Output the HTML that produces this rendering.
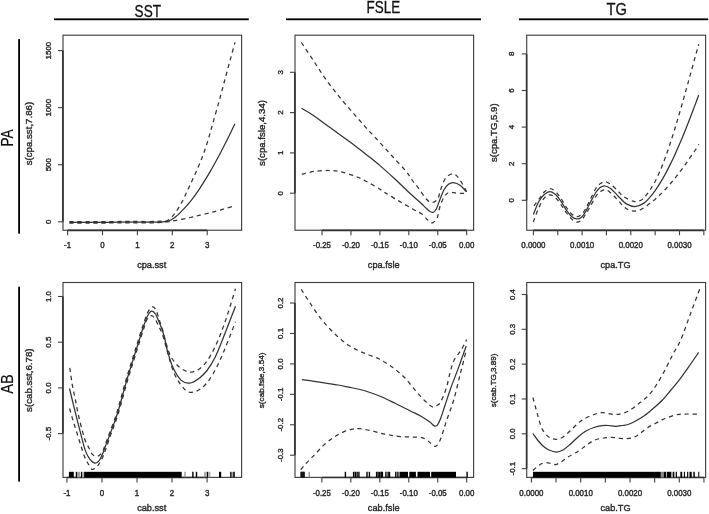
<!DOCTYPE html>
<html><head><meta charset="utf-8"><title>GAM plots</title>
<style>html,body{margin:0;padding:0;background:#fff;}svg{display:block;will-change:transform;filter:blur(0.3px);}text.a{stroke:#2a2a2a;stroke-width:0.38px;}</style>
</head><body>
<svg width="709" height="514" viewBox="0 0 709 514" font-family='"Liberation Sans", sans-serif'>
<rect width="709" height="514" fill="#fff"/>
<rect x="63.00" y="35.20" width="178.60" height="195.05" fill="none" stroke="#404040" stroke-width="1.15"/>
<line x1="62.90" y1="50.60" x2="62.90" y2="221.80" stroke="#303030" stroke-width="1.60"/>
<line x1="67.60" y1="230.35" x2="207.20" y2="230.35" stroke="#303030" stroke-width="1.60"/>
<line x1="58.00" y1="221.80" x2="63.00" y2="221.80" stroke="#404040" stroke-width="1.1"/>
<text class="a" transform="translate(51.00,221.80) rotate(-90)" text-anchor="middle" font-size="7.90" fill="#2a2a2a">0</text>
<line x1="58.00" y1="164.73" x2="63.00" y2="164.73" stroke="#404040" stroke-width="1.1"/>
<text class="a" transform="translate(51.00,164.73) rotate(-90)" text-anchor="middle" font-size="7.90" fill="#2a2a2a">500</text>
<line x1="58.00" y1="107.67" x2="63.00" y2="107.67" stroke="#404040" stroke-width="1.1"/>
<text class="a" transform="translate(51.00,107.67) rotate(-90)" text-anchor="middle" font-size="7.90" fill="#2a2a2a">1000</text>
<line x1="58.00" y1="50.60" x2="63.00" y2="50.60" stroke="#404040" stroke-width="1.1"/>
<text class="a" transform="translate(51.00,50.60) rotate(-90)" text-anchor="middle" font-size="7.90" fill="#2a2a2a">1500</text>
<line x1="67.60" y1="230.25" x2="67.60" y2="235.25" stroke="#404040" stroke-width="1.1"/>
<text class="a" transform="translate(67.60,247.90) scale(1,1.100)" text-anchor="middle" font-size="7.90" fill="#2a2a2a">-1</text>
<line x1="102.50" y1="230.25" x2="102.50" y2="235.25" stroke="#404040" stroke-width="1.1"/>
<text class="a" transform="translate(102.50,247.90) scale(1,1.100)" text-anchor="middle" font-size="7.90" fill="#2a2a2a">0</text>
<line x1="137.40" y1="230.25" x2="137.40" y2="235.25" stroke="#404040" stroke-width="1.1"/>
<text class="a" transform="translate(137.40,247.90) scale(1,1.100)" text-anchor="middle" font-size="7.90" fill="#2a2a2a">1</text>
<line x1="172.30" y1="230.25" x2="172.30" y2="235.25" stroke="#404040" stroke-width="1.1"/>
<text class="a" transform="translate(172.30,247.90) scale(1,1.100)" text-anchor="middle" font-size="7.90" fill="#2a2a2a">2</text>
<line x1="207.20" y1="230.25" x2="207.20" y2="235.25" stroke="#404040" stroke-width="1.1"/>
<text class="a" transform="translate(207.20,247.90) scale(1,1.100)" text-anchor="middle" font-size="7.90" fill="#2a2a2a">3</text>
<text class="a" transform="translate(151.70,267.70) scale(1,1.070)" text-anchor="middle" font-size="9.20" fill="#2a2a2a">cpa.sst</text>
<text class="a" transform="translate(32.45,133.60) rotate(-90)" text-anchor="middle" font-size="9.10" fill="#2a2a2a" textLength="63.40" lengthAdjust="spacingAndGlyphs">s(cpa.sst,7.86)</text>
<path d="M69.40,222.40 C72.83,222.40 83.23,222.42 90.00,222.40 C96.77,222.38 103.33,222.35 110.00,222.30 C116.67,222.25 123.33,222.12 130.00,222.10 C136.67,222.08 145.00,222.20 150.00,222.20 C155.00,222.20 157.33,222.23 160.00,222.10 C162.67,221.97 164.17,221.75 166.00,221.40 C167.83,221.05 169.33,220.80 171.00,220.00 C172.67,219.20 174.50,217.80 176.00,216.60 C177.50,215.40 178.50,214.28 180.00,212.80 C181.50,211.32 183.33,209.52 185.00,207.70 C186.67,205.88 188.33,203.97 190.00,201.90 C191.67,199.83 193.33,197.60 195.00,195.30 C196.67,193.00 198.33,190.62 200.00,188.10 C201.67,185.58 203.33,182.90 205.00,180.20 C206.67,177.50 208.33,174.77 210.00,171.90 C211.67,169.03 213.33,166.03 215.00,163.00 C216.67,159.97 218.33,156.87 220.00,153.70 C221.67,150.53 223.33,147.30 225.00,144.00 C226.67,140.70 228.35,137.27 230.00,133.90 C231.65,130.53 234.08,125.48 234.90,123.80" fill="none" stroke="#333333" stroke-width="1.25" stroke-linejoin="round"/>
<path d="M69.40,221.70 C72.83,221.70 83.23,221.72 90.00,221.70 C96.77,221.68 103.33,221.65 110.00,221.60 C116.67,221.55 123.33,221.42 130.00,221.40 C136.67,221.38 144.67,221.55 150.00,221.50 C155.33,221.45 159.08,221.27 162.00,221.10 C164.92,220.93 165.48,221.63 167.50,220.50 C169.52,219.37 171.80,217.18 174.10,214.30 C176.40,211.42 179.15,207.00 181.30,203.20 C183.45,199.40 185.10,195.48 187.00,191.50 C188.90,187.52 190.70,183.68 192.70,179.30 C194.70,174.92 197.12,169.67 199.00,165.20 C200.88,160.73 202.42,156.95 204.00,152.50 C205.58,148.05 207.02,143.42 208.50,138.50 C209.98,133.58 211.15,129.17 212.90,123.00 C214.65,116.83 217.15,108.17 219.00,101.50 C220.85,94.83 222.25,89.50 224.00,83.00 C225.75,76.50 227.67,69.27 229.50,62.50 C231.33,55.73 234.08,45.75 235.00,42.40" fill="none" stroke="#333333" stroke-width="1.25" stroke-dasharray="4.2 3.8"/>
<path d="M69.40,223.10 C72.83,223.10 83.23,223.12 90.00,223.10 C96.77,223.08 103.33,223.05 110.00,223.00 C116.67,222.95 123.33,222.82 130.00,222.80 C136.67,222.78 144.17,223.00 150.00,222.90 C155.83,222.80 160.65,222.63 165.00,222.20 C169.35,221.77 171.87,221.08 176.10,220.30 C180.33,219.52 186.42,218.35 190.40,217.50 C194.38,216.65 196.60,216.02 200.00,215.20 C203.40,214.38 207.30,213.50 210.80,212.60 C214.30,211.70 217.28,210.87 221.00,209.80 C224.72,208.73 231.08,206.80 233.10,206.20" fill="none" stroke="#333333" stroke-width="1.25" stroke-dasharray="4.2 3.8"/>
<rect x="295.00" y="35.20" width="178.60" height="195.05" fill="none" stroke="#404040" stroke-width="1.15"/>
<line x1="294.90" y1="72.30" x2="294.90" y2="193.20" stroke="#303030" stroke-width="1.60"/>
<line x1="322.00" y1="230.35" x2="466.70" y2="230.35" stroke="#303030" stroke-width="1.60"/>
<line x1="290.00" y1="193.20" x2="295.00" y2="193.20" stroke="#404040" stroke-width="1.1"/>
<text class="a" transform="translate(282.50,193.20) rotate(-90)" text-anchor="middle" font-size="7.90" fill="#2a2a2a">0</text>
<line x1="290.00" y1="152.90" x2="295.00" y2="152.90" stroke="#404040" stroke-width="1.1"/>
<text class="a" transform="translate(282.50,152.90) rotate(-90)" text-anchor="middle" font-size="7.90" fill="#2a2a2a">1</text>
<line x1="290.00" y1="112.60" x2="295.00" y2="112.60" stroke="#404040" stroke-width="1.1"/>
<text class="a" transform="translate(282.50,112.60) rotate(-90)" text-anchor="middle" font-size="7.90" fill="#2a2a2a">2</text>
<line x1="290.00" y1="72.30" x2="295.00" y2="72.30" stroke="#404040" stroke-width="1.1"/>
<text class="a" transform="translate(282.50,72.30) rotate(-90)" text-anchor="middle" font-size="7.90" fill="#2a2a2a">3</text>
<line x1="322.00" y1="230.25" x2="322.00" y2="235.25" stroke="#404040" stroke-width="1.1"/>
<text class="a" transform="translate(322.00,247.90) scale(1,1.100)" text-anchor="middle" font-size="7.90" fill="#2a2a2a">-0.25</text>
<line x1="350.94" y1="230.25" x2="350.94" y2="235.25" stroke="#404040" stroke-width="1.1"/>
<text class="a" transform="translate(350.94,247.90) scale(1,1.100)" text-anchor="middle" font-size="7.90" fill="#2a2a2a">-0.20</text>
<line x1="379.88" y1="230.25" x2="379.88" y2="235.25" stroke="#404040" stroke-width="1.1"/>
<text class="a" transform="translate(379.88,247.90) scale(1,1.100)" text-anchor="middle" font-size="7.90" fill="#2a2a2a">-0.15</text>
<line x1="408.82" y1="230.25" x2="408.82" y2="235.25" stroke="#404040" stroke-width="1.1"/>
<text class="a" transform="translate(408.82,247.90) scale(1,1.100)" text-anchor="middle" font-size="7.90" fill="#2a2a2a">-0.10</text>
<line x1="437.76" y1="230.25" x2="437.76" y2="235.25" stroke="#404040" stroke-width="1.1"/>
<text class="a" transform="translate(437.76,247.90) scale(1,1.100)" text-anchor="middle" font-size="7.90" fill="#2a2a2a">-0.05</text>
<line x1="466.70" y1="230.25" x2="466.70" y2="235.25" stroke="#404040" stroke-width="1.1"/>
<text class="a" transform="translate(466.70,247.90) scale(1,1.100)" text-anchor="middle" font-size="7.90" fill="#2a2a2a">0.00</text>
<text class="a" transform="translate(383.70,267.70) scale(1,1.070)" text-anchor="middle" font-size="9.20" fill="#2a2a2a">cpa.fsle</text>
<text class="a" transform="translate(264.90,133.00) rotate(-90)" text-anchor="middle" font-size="9.10" fill="#2a2a2a" textLength="65.90" lengthAdjust="spacingAndGlyphs">s(cpa.fsle,4.34)</text>
<path d="M301.50,108.30 C303.43,109.47 308.35,112.08 313.10,115.30 C317.85,118.52 322.97,122.50 330.00,127.60 C337.03,132.70 349.05,141.25 355.30,145.90 C361.55,150.55 363.38,152.22 367.50,155.50 C371.62,158.78 375.57,161.80 380.00,165.60 C384.43,169.40 389.40,173.95 394.10,178.30 C398.80,182.65 403.88,187.70 408.20,191.70 C412.52,195.70 416.95,199.50 420.00,202.30 C423.05,205.10 424.75,206.92 426.50,208.50 C428.25,210.08 429.37,211.17 430.50,211.80 C431.63,212.43 432.33,212.77 433.30,212.30 C434.27,211.83 435.13,211.30 436.30,209.00 C437.47,206.70 439.00,201.75 440.30,198.50 C441.60,195.25 442.73,191.88 444.10,189.50 C445.47,187.12 446.97,185.35 448.50,184.20 C450.03,183.05 451.32,182.40 453.30,182.60 C455.28,182.80 458.28,183.92 460.40,185.40 C462.52,186.88 465.07,190.48 466.00,191.50" fill="none" stroke="#333333" stroke-width="1.25" stroke-linejoin="round"/>
<path d="M301.40,42.50 C303.50,45.67 309.72,55.07 314.00,61.50 C318.28,67.93 322.60,74.88 327.10,81.10 C331.60,87.32 336.32,93.08 341.00,98.80 C345.68,104.52 350.70,110.23 355.20,115.40 C359.70,120.57 363.77,125.15 368.00,129.80 C372.23,134.45 376.43,138.77 380.60,143.30 C384.77,147.83 388.78,152.37 393.00,157.00 C397.22,161.63 402.72,167.27 405.90,171.10 C409.08,174.93 409.93,177.05 412.10,180.00 C414.27,182.95 416.47,185.55 418.90,188.80 C421.33,192.05 424.43,197.23 426.70,199.50 C428.97,201.77 430.72,202.40 432.50,202.40 C434.28,202.40 436.22,200.98 437.40,199.50 C438.58,198.02 438.87,195.67 439.60,193.50 C440.33,191.33 440.73,189.13 441.80,186.50 C442.87,183.87 444.13,179.80 446.00,177.70 C447.87,175.60 450.78,173.70 453.00,173.90 C455.22,174.10 456.98,175.85 459.30,178.90 C461.62,181.95 465.63,189.98 466.90,192.20" fill="none" stroke="#333333" stroke-width="1.25" stroke-dasharray="4.2 3.8"/>
<path d="M301.80,174.20 C304.00,173.72 310.47,171.92 315.00,171.30 C319.53,170.68 324.83,170.47 329.00,170.50 C333.17,170.53 335.62,170.55 340.00,171.50 C344.38,172.45 350.80,174.48 355.30,176.20 C359.80,177.92 362.88,179.63 367.00,181.80 C371.12,183.97 376.87,187.32 380.00,189.20 C383.13,191.08 382.55,191.07 385.80,193.10 C389.05,195.13 394.95,198.72 399.50,201.40 C404.05,204.08 409.38,207.10 413.10,209.20 C416.82,211.30 419.37,212.22 421.80,214.00 C424.23,215.78 425.92,218.43 427.70,219.90 C429.48,221.37 430.88,223.28 432.50,222.80 C434.12,222.32 436.10,219.88 437.40,217.00 C438.70,214.12 439.08,209.00 440.30,205.50 C441.52,202.00 443.12,198.22 444.70,196.00 C446.28,193.78 447.78,192.65 449.80,192.20 C451.82,191.75 454.17,193.12 456.80,193.30 C459.43,193.48 464.13,193.30 465.60,193.30" fill="none" stroke="#333333" stroke-width="1.25" stroke-dasharray="4.2 3.8"/>
<rect x="526.70" y="35.20" width="178.90" height="195.05" fill="none" stroke="#404040" stroke-width="1.15"/>
<line x1="526.60" y1="53.90" x2="526.60" y2="200.30" stroke="#303030" stroke-width="1.60"/>
<line x1="533.40" y1="230.35" x2="703.85" y2="230.35" stroke="#303030" stroke-width="1.60"/>
<line x1="521.70" y1="200.30" x2="526.70" y2="200.30" stroke="#404040" stroke-width="1.1"/>
<text class="a" transform="translate(514.40,200.30) rotate(-90)" text-anchor="middle" font-size="7.90" fill="#2a2a2a">0</text>
<line x1="521.70" y1="163.70" x2="526.70" y2="163.70" stroke="#404040" stroke-width="1.1"/>
<text class="a" transform="translate(514.40,163.70) rotate(-90)" text-anchor="middle" font-size="7.90" fill="#2a2a2a">2</text>
<line x1="521.70" y1="127.10" x2="526.70" y2="127.10" stroke="#404040" stroke-width="1.1"/>
<text class="a" transform="translate(514.40,127.10) rotate(-90)" text-anchor="middle" font-size="7.90" fill="#2a2a2a">4</text>
<line x1="521.70" y1="90.50" x2="526.70" y2="90.50" stroke="#404040" stroke-width="1.1"/>
<text class="a" transform="translate(514.40,90.50) rotate(-90)" text-anchor="middle" font-size="7.90" fill="#2a2a2a">6</text>
<line x1="521.70" y1="53.90" x2="526.70" y2="53.90" stroke="#404040" stroke-width="1.1"/>
<text class="a" transform="translate(514.40,53.90) rotate(-90)" text-anchor="middle" font-size="7.90" fill="#2a2a2a">8</text>
<line x1="533.40" y1="230.25" x2="533.40" y2="235.25" stroke="#404040" stroke-width="1.1"/>
<text class="a" transform="translate(533.40,247.90) scale(1,1.100)" text-anchor="middle" font-size="7.90" fill="#2a2a2a">0.0000</text>
<line x1="557.75" y1="230.25" x2="557.75" y2="235.25" stroke="#404040" stroke-width="1.1"/>
<line x1="582.10" y1="230.25" x2="582.10" y2="235.25" stroke="#404040" stroke-width="1.1"/>
<text class="a" transform="translate(582.10,247.90) scale(1,1.100)" text-anchor="middle" font-size="7.90" fill="#2a2a2a">0.0010</text>
<line x1="606.45" y1="230.25" x2="606.45" y2="235.25" stroke="#404040" stroke-width="1.1"/>
<line x1="630.80" y1="230.25" x2="630.80" y2="235.25" stroke="#404040" stroke-width="1.1"/>
<text class="a" transform="translate(630.80,247.90) scale(1,1.100)" text-anchor="middle" font-size="7.90" fill="#2a2a2a">0.0020</text>
<line x1="655.15" y1="230.25" x2="655.15" y2="235.25" stroke="#404040" stroke-width="1.1"/>
<line x1="679.50" y1="230.25" x2="679.50" y2="235.25" stroke="#404040" stroke-width="1.1"/>
<text class="a" transform="translate(679.50,247.90) scale(1,1.100)" text-anchor="middle" font-size="7.90" fill="#2a2a2a">0.0030</text>
<line x1="703.85" y1="230.25" x2="703.85" y2="235.25" stroke="#404040" stroke-width="1.1"/>
<text class="a" transform="translate(615.55,267.70) scale(1,1.070)" text-anchor="middle" font-size="9.20" fill="#2a2a2a">cpa.TG</text>
<text class="a" transform="translate(496.65,132.75) rotate(-90)" text-anchor="middle" font-size="9.10" fill="#2a2a2a" textLength="58.70" lengthAdjust="spacingAndGlyphs">s(cpa.TG,5.9)</text>
<path d="M533.30,214.60 C534.20,212.45 536.92,205.00 538.70,201.70 C540.48,198.40 542.13,196.48 544.00,194.80 C545.87,193.12 547.93,191.60 549.90,191.60 C551.87,191.60 553.92,193.12 555.80,194.80 C557.68,196.48 559.42,199.12 561.20,201.70 C562.98,204.28 564.72,207.80 566.50,210.30 C568.28,212.80 570.20,215.27 571.90,216.70 C573.60,218.13 575.10,218.82 576.70,218.90 C578.30,218.98 579.98,218.45 581.50,217.20 C583.02,215.95 584.48,213.57 585.80,211.40 C587.12,209.23 587.73,207.35 589.40,204.20 C591.07,201.05 594.02,195.27 595.80,192.50 C597.58,189.73 598.58,188.68 600.10,187.60 C601.62,186.52 603.12,185.82 604.90,186.00 C606.68,186.18 608.75,187.18 610.80,188.70 C612.85,190.22 615.67,193.55 617.20,195.10 C618.73,196.65 618.47,196.53 620.00,198.00 C621.53,199.47 623.90,202.47 626.40,203.90 C628.90,205.33 632.13,206.68 635.00,206.60 C637.87,206.52 641.10,204.97 643.60,203.40 C646.10,201.83 648.10,199.30 650.00,197.20 C651.90,195.10 653.33,193.13 655.00,190.80 C656.67,188.47 658.33,185.90 660.00,183.20 C661.67,180.50 663.33,177.65 665.00,174.60 C666.67,171.55 668.33,168.27 670.00,164.90 C671.67,161.53 673.33,158.03 675.00,154.40 C676.67,150.77 678.33,147.00 680.00,143.10 C681.67,139.20 683.33,135.13 685.00,131.00 C686.67,126.87 688.33,122.62 690.00,118.30 C691.67,113.98 693.55,108.98 695.00,105.10 C696.45,101.22 698.08,96.68 698.70,95.00" fill="none" stroke="#333333" stroke-width="1.25" stroke-linejoin="round"/>
<path d="M533.90,206.00 C534.88,204.67 538.03,200.37 539.80,198.00 C541.57,195.63 542.82,193.35 544.50,191.80 C546.18,190.25 548.07,188.75 549.90,188.70 C551.73,188.65 553.65,189.87 555.50,191.50 C557.35,193.13 559.17,195.83 561.00,198.50 C562.83,201.17 564.68,204.88 566.50,207.50 C568.32,210.12 570.20,212.67 571.90,214.20 C573.60,215.73 575.10,216.65 576.70,216.70 C578.30,216.75 579.98,215.87 581.50,214.50 C583.02,213.13 584.38,210.92 585.80,208.50 C587.22,206.08 588.33,203.33 590.00,200.00 C591.67,196.67 594.05,191.25 595.80,188.50 C597.55,185.75 598.88,184.62 600.50,183.50 C602.12,182.38 603.67,181.55 605.50,181.80 C607.33,182.05 609.37,183.40 611.50,185.00 C613.63,186.60 616.35,189.50 618.30,191.40 C620.25,193.30 620.78,194.77 623.20,196.40 C625.62,198.03 630.50,200.38 632.80,201.20 C635.10,202.02 635.57,201.48 637.00,201.30 C638.43,201.12 639.90,201.07 641.40,200.10 C642.90,199.13 644.57,197.18 646.00,195.50 C647.43,193.82 648.50,192.30 650.00,190.00 C651.50,187.70 653.33,184.85 655.00,181.70 C656.67,178.55 658.33,174.98 660.00,171.10 C661.67,167.22 663.33,162.92 665.00,158.40 C666.67,153.88 668.33,149.03 670.00,144.00 C671.67,138.97 673.33,133.63 675.00,128.20 C676.67,122.77 678.33,117.13 680.00,111.40 C681.67,105.67 683.33,99.73 685.00,93.80 C686.67,87.87 688.33,81.82 690.00,75.80 C691.67,69.78 693.53,62.98 695.00,57.70 C696.47,52.42 698.17,46.37 698.80,44.10" fill="none" stroke="#333333" stroke-width="1.25" stroke-dasharray="4.2 3.8"/>
<path d="M533.30,222.10 C534.20,219.75 536.92,211.97 538.70,208.00 C540.48,204.03 542.13,200.50 544.00,198.30 C545.87,196.10 547.93,194.85 549.90,194.80 C551.87,194.75 553.92,196.30 555.80,198.00 C557.68,199.70 559.42,202.50 561.20,205.00 C562.98,207.50 564.72,210.62 566.50,213.00 C568.28,215.38 570.20,217.78 571.90,219.30 C573.60,220.82 575.10,221.98 576.70,222.10 C578.30,222.22 579.98,221.35 581.50,220.00 C583.02,218.65 584.38,216.17 585.80,214.00 C587.22,211.83 588.33,209.92 590.00,207.00 C591.67,204.08 594.05,199.08 595.80,196.50 C597.55,193.92 598.80,192.62 600.50,191.50 C602.20,190.38 604.08,189.38 606.00,189.80 C607.92,190.22 609.95,192.20 612.00,194.00 C614.05,195.80 616.22,198.37 618.30,200.60 C620.38,202.83 622.25,205.68 624.50,207.40 C626.75,209.12 629.17,210.50 631.80,210.90 C634.43,211.30 637.63,210.78 640.30,209.80 C642.97,208.82 645.35,206.73 647.80,205.00 C650.25,203.27 652.97,201.10 655.00,199.40 C657.03,197.70 658.33,196.42 660.00,194.80 C661.67,193.18 663.33,191.48 665.00,189.70 C666.67,187.92 668.33,186.02 670.00,184.10 C671.67,182.18 673.33,180.27 675.00,178.20 C676.67,176.13 678.33,173.92 680.00,171.70 C681.67,169.48 683.33,167.25 685.00,164.90 C686.67,162.55 688.33,160.00 690.00,157.60 C691.67,155.20 693.52,152.72 695.00,150.50 C696.48,148.28 698.25,145.33 698.90,144.30" fill="none" stroke="#333333" stroke-width="1.25" stroke-dasharray="4.2 3.8"/>
<rect x="63.00" y="282.50" width="178.60" height="194.90" fill="none" stroke="#404040" stroke-width="1.15"/>
<line x1="62.90" y1="296.50" x2="62.90" y2="433.60" stroke="#303030" stroke-width="1.60"/>
<line x1="66.90" y1="477.50" x2="207.10" y2="477.50" stroke="#303030" stroke-width="1.60"/>
<line x1="58.00" y1="433.60" x2="63.00" y2="433.60" stroke="#404040" stroke-width="1.1"/>
<text class="a" transform="translate(51.00,433.60) rotate(-90)" text-anchor="middle" font-size="7.90" fill="#2a2a2a">-0.5</text>
<line x1="58.00" y1="387.90" x2="63.00" y2="387.90" stroke="#404040" stroke-width="1.1"/>
<text class="a" transform="translate(51.00,387.90) rotate(-90)" text-anchor="middle" font-size="7.90" fill="#2a2a2a">0.0</text>
<line x1="58.00" y1="342.20" x2="63.00" y2="342.20" stroke="#404040" stroke-width="1.1"/>
<text class="a" transform="translate(51.00,342.20) rotate(-90)" text-anchor="middle" font-size="7.90" fill="#2a2a2a">0.5</text>
<line x1="58.00" y1="296.50" x2="63.00" y2="296.50" stroke="#404040" stroke-width="1.1"/>
<text class="a" transform="translate(51.00,296.50) rotate(-90)" text-anchor="middle" font-size="7.90" fill="#2a2a2a">1.0</text>
<line x1="66.90" y1="477.40" x2="66.90" y2="482.40" stroke="#404040" stroke-width="1.1"/>
<text class="a" transform="translate(66.90,495.50) scale(1,1.100)" text-anchor="middle" font-size="7.90" fill="#2a2a2a">-1</text>
<line x1="101.95" y1="477.40" x2="101.95" y2="482.40" stroke="#404040" stroke-width="1.1"/>
<text class="a" transform="translate(101.95,495.50) scale(1,1.100)" text-anchor="middle" font-size="7.90" fill="#2a2a2a">0</text>
<line x1="137.00" y1="477.40" x2="137.00" y2="482.40" stroke="#404040" stroke-width="1.1"/>
<text class="a" transform="translate(137.00,495.50) scale(1,1.100)" text-anchor="middle" font-size="7.90" fill="#2a2a2a">1</text>
<line x1="172.05" y1="477.40" x2="172.05" y2="482.40" stroke="#404040" stroke-width="1.1"/>
<text class="a" transform="translate(172.05,495.50) scale(1,1.100)" text-anchor="middle" font-size="7.90" fill="#2a2a2a">2</text>
<line x1="207.10" y1="477.40" x2="207.10" y2="482.40" stroke="#404040" stroke-width="1.1"/>
<text class="a" transform="translate(207.10,495.50) scale(1,1.100)" text-anchor="middle" font-size="7.90" fill="#2a2a2a">3</text>
<text class="a" transform="translate(151.70,511.30) scale(1,1.070)" text-anchor="middle" font-size="9.20" fill="#2a2a2a">cab.sst</text>
<text class="a" transform="translate(32.45,380.20) rotate(-90)" text-anchor="middle" font-size="9.10" fill="#2a2a2a" textLength="63.40" lengthAdjust="spacingAndGlyphs">s(cab.sst,6.78)</text>
<rect x="68.90" y="471.80" width="4.90" height="5.60" fill="#000"/>
<rect x="75.80" y="471.80" width="1.20" height="5.60" fill="#000"/>
<rect x="77.20" y="471.80" width="2.70" height="5.60" fill="#999"/>
<rect x="80.90" y="471.80" width="1.20" height="5.60" fill="#000"/>
<rect x="82.10" y="471.80" width="1.70" height="5.60" fill="#aaa"/>
<rect x="84.10" y="471.80" width="97.60" height="5.60" fill="#000"/>
<rect x="184.40" y="471.80" width="1.20" height="5.60" fill="#888"/>
<line x1="192.90" y1="471.80" x2="192.90" y2="477.40" stroke="#000" stroke-width="1.4"/>
<line x1="196.50" y1="471.80" x2="196.50" y2="477.40" stroke="#000" stroke-width="1.4"/>
<rect x="204.40" y="471.80" width="1.20" height="5.60" fill="#777"/>
<line x1="207.40" y1="471.80" x2="207.40" y2="477.40" stroke="#000" stroke-width="1.4"/>
<rect x="208.00" y="471.80" width="2.40" height="5.60" fill="#aaa"/>
<rect x="219.00" y="471.80" width="2.20" height="5.60" fill="#000"/>
<rect x="230.20" y="471.80" width="1.40" height="5.60" fill="#000"/>
<rect x="232.40" y="471.80" width="0.60" height="5.60" fill="#666"/>
<rect x="233.20" y="471.80" width="1.60" height="5.60" fill="#000"/>
<path d="M69.50,388.50 C70.23,391.53 72.52,401.07 73.90,406.70 C75.28,412.33 76.63,417.68 77.80,422.30 C78.97,426.92 79.67,429.77 80.90,434.40 C82.13,439.03 83.75,446.02 85.20,450.10 C86.65,454.18 87.98,456.72 89.60,458.90 C91.22,461.08 93.30,462.92 94.90,463.20 C96.50,463.48 97.90,462.20 99.20,460.60 C100.50,459.00 101.53,456.35 102.70,453.60 C103.87,450.85 104.88,447.60 106.20,444.10 C107.52,440.60 108.72,437.73 110.60,432.60 C112.48,427.47 114.88,421.77 117.50,413.30 C120.12,404.83 123.72,390.68 126.30,381.80 C128.88,372.92 131.05,366.30 133.00,360.00 C134.95,353.70 136.33,349.33 138.00,344.00 C139.67,338.67 141.42,332.67 143.00,328.00 C144.58,323.33 146.07,318.82 147.50,316.00 C148.93,313.18 150.27,311.43 151.60,311.10 C152.93,310.77 154.27,312.18 155.50,314.00 C156.73,315.82 157.87,319.33 159.00,322.00 C160.13,324.67 161.30,327.00 162.30,330.00 C163.30,333.00 164.10,336.37 165.00,340.00 C165.90,343.63 166.33,347.12 167.70,351.80 C169.07,356.48 170.93,363.33 173.20,368.10 C175.47,372.87 178.58,377.90 181.30,380.40 C184.02,382.90 186.55,383.43 189.50,383.10 C192.45,382.77 196.08,380.50 199.00,378.40 C201.92,376.30 204.33,373.98 207.00,370.50 C209.67,367.02 212.50,362.42 215.00,357.50 C217.50,352.58 219.67,346.75 222.00,341.00 C224.33,335.25 226.75,328.78 229.00,323.00 C231.25,317.22 234.42,309.08 235.50,306.30" fill="none" stroke="#333333" stroke-width="1.25" stroke-linejoin="round"/>
<path d="M69.80,367.80 C70.22,370.65 71.35,379.45 72.30,384.90 C73.25,390.35 74.45,395.32 75.50,400.50 C76.55,405.68 77.42,410.80 78.60,416.00 C79.78,421.20 81.50,427.62 82.60,431.70 C83.70,435.78 84.18,437.87 85.20,440.50 C86.22,443.13 87.53,445.23 88.70,447.50 C89.87,449.77 91.03,452.65 92.20,454.10 C93.37,455.55 94.53,455.98 95.70,456.20 C96.87,456.42 98.03,456.18 99.20,455.40 C100.37,454.62 101.65,453.45 102.70,451.50 C103.75,449.55 104.32,446.90 105.50,443.70 C106.68,440.50 107.93,437.40 109.80,432.30 C111.67,427.20 114.08,421.55 116.70,413.10 C119.32,404.65 122.92,390.48 125.50,381.60 C128.08,372.72 130.25,366.13 132.20,359.80 C134.15,353.47 135.52,348.98 137.20,343.60 C138.88,338.22 140.63,332.52 142.30,327.50 C143.97,322.48 145.57,316.92 147.20,313.50 C148.83,310.08 150.63,307.58 152.10,307.00 C153.57,306.42 154.80,307.83 156.00,310.00 C157.20,312.17 158.20,316.67 159.30,320.00 C160.40,323.33 161.57,326.50 162.60,330.00 C163.63,333.50 164.52,337.50 165.50,341.00 C166.48,344.50 167.42,348.08 168.50,351.00 C169.58,353.92 170.32,355.92 172.00,358.50 C173.68,361.08 176.13,364.33 178.60,366.50 C181.07,368.67 184.40,370.62 186.80,371.50 C189.20,372.38 190.80,372.30 193.00,371.80 C195.20,371.30 197.67,370.30 200.00,368.50 C202.33,366.70 204.67,364.25 207.00,361.00 C209.33,357.75 211.67,353.67 214.00,349.00 C216.33,344.33 218.67,339.00 221.00,333.00 C223.33,327.00 225.58,320.37 228.00,313.00 C230.42,305.63 234.25,292.83 235.50,288.80" fill="none" stroke="#333333" stroke-width="1.25" stroke-dasharray="4.2 3.8"/>
<path d="M69.60,408.50 C70.18,410.53 71.87,416.58 73.10,420.70 C74.33,424.82 75.70,429.03 77.00,433.20 C78.30,437.37 79.67,441.87 80.90,445.70 C82.13,449.53 83.23,453.28 84.40,456.20 C85.57,459.12 86.60,461.00 87.90,463.20 C89.20,465.40 90.60,468.95 92.20,469.40 C93.80,469.85 95.88,467.65 97.50,465.90 C99.12,464.15 100.55,461.63 101.90,458.90 C103.25,456.17 104.02,453.83 105.60,449.50 C107.18,445.17 109.28,438.90 111.40,432.90 C113.52,426.90 115.68,421.98 118.30,413.50 C120.92,405.02 124.52,390.88 127.10,382.00 C129.68,373.12 131.85,366.47 133.80,360.20 C135.75,353.93 137.17,349.60 138.80,344.40 C140.43,339.20 142.23,333.15 143.60,329.00 C144.97,324.85 145.77,321.72 147.00,319.50 C148.23,317.28 149.75,315.95 151.00,315.70 C152.25,315.45 153.25,316.28 154.50,318.00 C155.75,319.72 157.25,323.50 158.50,326.00 C159.75,328.50 160.92,330.17 162.00,333.00 C163.08,335.83 163.82,338.83 165.00,343.00 C166.18,347.17 167.52,352.83 169.10,358.00 C170.68,363.17 172.47,369.42 174.50,374.00 C176.53,378.58 179.03,382.53 181.30,385.50 C183.57,388.47 185.60,390.83 188.10,391.80 C190.60,392.77 193.48,392.43 196.30,391.30 C199.12,390.17 202.22,387.88 205.00,385.00 C207.78,382.12 210.33,378.50 213.00,374.00 C215.67,369.50 218.50,363.50 221.00,358.00 C223.50,352.50 225.58,347.03 228.00,341.00 C230.42,334.97 234.25,325.00 235.50,321.80" fill="none" stroke="#333333" stroke-width="1.25" stroke-dasharray="4.2 3.8"/>
<rect x="295.00" y="282.50" width="178.60" height="194.90" fill="none" stroke="#404040" stroke-width="1.15"/>
<line x1="294.90" y1="303.03" x2="294.90" y2="455.20" stroke="#303030" stroke-width="1.60"/>
<line x1="321.90" y1="477.50" x2="466.70" y2="477.50" stroke="#303030" stroke-width="1.60"/>
<line x1="290.00" y1="455.20" x2="295.00" y2="455.20" stroke="#404040" stroke-width="1.1"/>
<text class="a" transform="translate(282.80,455.20) rotate(-90)" text-anchor="middle" font-size="7.90" fill="#2a2a2a">-0.3</text>
<line x1="290.00" y1="424.77" x2="295.00" y2="424.77" stroke="#404040" stroke-width="1.1"/>
<text class="a" transform="translate(282.80,424.77) rotate(-90)" text-anchor="middle" font-size="7.90" fill="#2a2a2a">-0.2</text>
<line x1="290.00" y1="394.33" x2="295.00" y2="394.33" stroke="#404040" stroke-width="1.1"/>
<text class="a" transform="translate(282.80,394.33) rotate(-90)" text-anchor="middle" font-size="7.90" fill="#2a2a2a">-0.1</text>
<line x1="290.00" y1="363.90" x2="295.00" y2="363.90" stroke="#404040" stroke-width="1.1"/>
<text class="a" transform="translate(282.80,363.90) rotate(-90)" text-anchor="middle" font-size="7.90" fill="#2a2a2a">0.0</text>
<line x1="290.00" y1="333.47" x2="295.00" y2="333.47" stroke="#404040" stroke-width="1.1"/>
<text class="a" transform="translate(282.80,333.47) rotate(-90)" text-anchor="middle" font-size="7.90" fill="#2a2a2a">0.1</text>
<line x1="290.00" y1="303.03" x2="295.00" y2="303.03" stroke="#404040" stroke-width="1.1"/>
<text class="a" transform="translate(282.80,303.03) rotate(-90)" text-anchor="middle" font-size="7.90" fill="#2a2a2a">0.2</text>
<line x1="321.90" y1="477.40" x2="321.90" y2="482.40" stroke="#404040" stroke-width="1.1"/>
<text class="a" transform="translate(321.90,495.50) scale(1,1.100)" text-anchor="middle" font-size="7.90" fill="#2a2a2a">-0.25</text>
<line x1="350.86" y1="477.40" x2="350.86" y2="482.40" stroke="#404040" stroke-width="1.1"/>
<text class="a" transform="translate(350.86,495.50) scale(1,1.100)" text-anchor="middle" font-size="7.90" fill="#2a2a2a">-0.20</text>
<line x1="379.82" y1="477.40" x2="379.82" y2="482.40" stroke="#404040" stroke-width="1.1"/>
<text class="a" transform="translate(379.82,495.50) scale(1,1.100)" text-anchor="middle" font-size="7.90" fill="#2a2a2a">-0.15</text>
<line x1="408.78" y1="477.40" x2="408.78" y2="482.40" stroke="#404040" stroke-width="1.1"/>
<text class="a" transform="translate(408.78,495.50) scale(1,1.100)" text-anchor="middle" font-size="7.90" fill="#2a2a2a">-0.10</text>
<line x1="437.74" y1="477.40" x2="437.74" y2="482.40" stroke="#404040" stroke-width="1.1"/>
<text class="a" transform="translate(437.74,495.50) scale(1,1.100)" text-anchor="middle" font-size="7.90" fill="#2a2a2a">-0.05</text>
<line x1="466.70" y1="477.40" x2="466.70" y2="482.40" stroke="#404040" stroke-width="1.1"/>
<text class="a" transform="translate(466.70,495.50) scale(1,1.100)" text-anchor="middle" font-size="7.90" fill="#2a2a2a">0.00</text>
<text class="a" transform="translate(383.70,511.30) scale(1,1.070)" text-anchor="middle" font-size="9.20" fill="#2a2a2a">cab.fsle</text>
<text class="a" transform="translate(264.10,380.40) rotate(-90)" text-anchor="middle" font-size="8.00" fill="#2a2a2a" textLength="55.60" lengthAdjust="spacingAndGlyphs">s(cab.fsle,3.54)</text>
<line x1="301.10" y1="471.80" x2="301.10" y2="477.40" stroke="#000" stroke-width="1.4"/>
<line x1="302.10" y1="471.80" x2="302.10" y2="477.40" stroke="#000" stroke-width="1.4"/>
<line x1="303.10" y1="471.80" x2="303.10" y2="477.40" stroke="#000" stroke-width="1.4"/>
<line x1="304.10" y1="471.80" x2="304.10" y2="477.40" stroke="#000" stroke-width="1.4"/>
<rect x="308.60" y="471.80" width="1.20" height="5.60" fill="#888"/>
<line x1="345.40" y1="471.80" x2="345.40" y2="477.40" stroke="#000" stroke-width="1.4"/>
<line x1="353.60" y1="471.80" x2="353.60" y2="477.40" stroke="#000" stroke-width="1.4"/>
<line x1="355.30" y1="471.80" x2="355.30" y2="477.40" stroke="#000" stroke-width="1.4"/>
<line x1="357.10" y1="471.80" x2="357.10" y2="477.40" stroke="#000" stroke-width="1.4"/>
<line x1="358.90" y1="471.80" x2="358.90" y2="477.40" stroke="#000" stroke-width="1.4"/>
<line x1="367.00" y1="471.80" x2="367.00" y2="477.40" stroke="#000" stroke-width="1.4"/>
<line x1="369.40" y1="471.80" x2="369.40" y2="477.40" stroke="#000" stroke-width="1.4"/>
<line x1="376.60" y1="471.80" x2="376.60" y2="477.40" stroke="#000" stroke-width="1.4"/>
<line x1="378.10" y1="471.80" x2="378.10" y2="477.40" stroke="#000" stroke-width="1.4"/>
<line x1="379.60" y1="471.80" x2="379.60" y2="477.40" stroke="#000" stroke-width="1.4"/>
<line x1="381.10" y1="471.80" x2="381.10" y2="477.40" stroke="#000" stroke-width="1.4"/>
<line x1="382.40" y1="471.80" x2="382.40" y2="477.40" stroke="#000" stroke-width="1.4"/>
<rect x="381.00" y="471.80" width="1.00" height="5.60" fill="#000"/>
<line x1="385.90" y1="471.80" x2="385.90" y2="477.40" stroke="#000" stroke-width="1.4"/>
<line x1="388.10" y1="471.80" x2="388.10" y2="477.40" stroke="#000" stroke-width="1.4"/>
<line x1="389.50" y1="471.80" x2="389.50" y2="477.40" stroke="#000" stroke-width="1.4"/>
<line x1="395.80" y1="471.80" x2="395.80" y2="477.40" stroke="#000" stroke-width="1.4"/>
<line x1="397.90" y1="471.80" x2="397.90" y2="477.40" stroke="#000" stroke-width="1.4"/>
<rect x="399.50" y="471.80" width="8.50" height="5.60" fill="#000"/>
<rect x="409.30" y="471.80" width="6.60" height="5.60" fill="#000"/>
<rect x="417.50" y="471.80" width="12.50" height="5.60" fill="#000"/>
<rect x="431.20" y="471.80" width="24.80" height="5.60" fill="#000"/>
<line x1="467.10" y1="471.80" x2="467.10" y2="477.40" stroke="#000" stroke-width="1.4"/>
<path d="M301.90,379.60 C303.92,379.88 309.80,380.68 314.00,381.30 C318.20,381.92 323.10,382.68 327.10,383.30 C331.10,383.92 334.43,384.37 338.00,385.00 C341.57,385.63 344.83,386.35 348.50,387.10 C352.17,387.85 356.42,388.60 360.00,389.50 C363.58,390.40 366.33,391.25 370.00,392.50 C373.67,393.75 377.83,395.20 382.00,397.00 C386.17,398.80 392.00,401.83 395.00,403.30 C398.00,404.77 397.35,404.48 400.00,405.80 C402.65,407.12 407.27,409.38 410.90,411.20 C414.53,413.02 418.63,414.88 421.80,416.70 C424.97,418.52 427.82,420.58 429.90,422.10 C431.98,423.62 433.07,425.28 434.30,425.80 C435.53,426.32 436.22,426.50 437.30,425.20 C438.38,423.90 439.53,421.23 440.80,418.00 C442.07,414.77 443.32,410.55 444.90,405.80 C446.48,401.05 448.03,395.87 450.30,389.50 C452.57,383.13 455.85,374.85 458.50,367.60 C461.15,360.35 464.92,349.60 466.20,346.00" fill="none" stroke="#333333" stroke-width="1.25" stroke-linejoin="round"/>
<path d="M301.20,289.30 C302.67,291.58 306.82,298.23 310.00,303.00 C313.18,307.77 316.97,313.57 320.30,317.90 C323.63,322.23 326.77,325.58 330.00,329.00 C333.23,332.42 336.53,335.65 339.70,338.40 C342.87,341.15 345.75,343.40 349.00,345.50 C352.25,347.60 355.87,349.42 359.20,351.00 C362.53,352.58 365.75,353.70 369.00,355.00 C372.25,356.30 375.87,357.47 378.70,358.80 C381.53,360.13 383.42,361.38 386.00,363.00 C388.58,364.62 391.03,366.00 394.20,368.50 C397.37,371.00 401.53,374.42 405.00,378.00 C408.47,381.58 411.67,386.17 415.00,390.00 C418.33,393.83 422.05,398.17 425.00,401.00 C427.95,403.83 430.70,406.25 432.70,407.00 C434.70,407.75 435.65,406.38 437.00,405.50 C438.35,404.62 439.25,404.60 440.80,401.70 C442.35,398.80 444.72,393.10 446.30,388.10 C447.88,383.10 448.95,376.47 450.30,371.70 C451.65,366.93 452.58,363.12 454.40,359.50 C456.22,355.88 459.17,353.32 461.20,350.00 C463.23,346.68 465.70,341.33 466.60,339.60" fill="none" stroke="#333333" stroke-width="1.25" stroke-dasharray="4.2 3.8"/>
<path d="M300.80,469.70 C301.67,468.67 304.13,465.55 306.00,463.50 C307.87,461.45 310.00,459.48 312.00,457.40 C314.00,455.32 316.03,453.05 318.00,451.00 C319.97,448.95 321.80,446.93 323.80,445.10 C325.80,443.27 327.87,441.60 330.00,440.00 C332.13,438.40 334.27,436.90 336.60,435.50 C338.93,434.10 341.32,432.65 344.00,431.60 C346.68,430.55 350.17,429.68 352.70,429.20 C355.23,428.72 356.32,428.48 359.20,428.70 C362.08,428.92 366.42,429.75 370.00,430.50 C373.58,431.25 377.37,432.45 380.70,433.20 C384.03,433.95 386.78,434.43 390.00,435.00 C393.22,435.57 396.33,436.27 400.00,436.60 C403.67,436.93 408.37,436.83 412.00,437.00 C415.63,437.17 419.13,436.93 421.80,437.60 C424.47,438.27 425.80,439.53 428.00,441.00 C430.20,442.47 433.25,446.07 435.00,446.40 C436.75,446.73 437.47,444.50 438.50,443.00 C439.53,441.50 439.83,441.20 441.20,437.40 C442.57,433.60 444.62,426.43 446.70,420.20 C448.78,413.97 451.48,407.53 453.70,400.00 C455.92,392.47 457.95,383.10 460.00,375.00 C462.05,366.90 465.00,355.33 466.00,351.40" fill="none" stroke="#333333" stroke-width="1.25" stroke-dasharray="4.2 3.8"/>
<rect x="526.70" y="282.50" width="178.90" height="194.90" fill="none" stroke="#404040" stroke-width="1.15"/>
<line x1="526.60" y1="294.50" x2="526.60" y2="468.62" stroke="#303030" stroke-width="1.60"/>
<line x1="531.40" y1="477.50" x2="703.95" y2="477.50" stroke="#303030" stroke-width="1.60"/>
<line x1="521.70" y1="468.62" x2="526.70" y2="468.62" stroke="#404040" stroke-width="1.1"/>
<text class="a" transform="translate(514.70,468.62) rotate(-90)" text-anchor="middle" font-size="7.90" fill="#2a2a2a">-0.1</text>
<line x1="521.70" y1="433.80" x2="526.70" y2="433.80" stroke="#404040" stroke-width="1.1"/>
<text class="a" transform="translate(514.70,433.80) rotate(-90)" text-anchor="middle" font-size="7.90" fill="#2a2a2a">0.0</text>
<line x1="521.70" y1="398.98" x2="526.70" y2="398.98" stroke="#404040" stroke-width="1.1"/>
<text class="a" transform="translate(514.70,398.98) rotate(-90)" text-anchor="middle" font-size="7.90" fill="#2a2a2a">0.1</text>
<line x1="521.70" y1="364.15" x2="526.70" y2="364.15" stroke="#404040" stroke-width="1.1"/>
<text class="a" transform="translate(514.70,364.15) rotate(-90)" text-anchor="middle" font-size="7.90" fill="#2a2a2a">0.2</text>
<line x1="521.70" y1="329.33" x2="526.70" y2="329.33" stroke="#404040" stroke-width="1.1"/>
<text class="a" transform="translate(514.70,329.33) rotate(-90)" text-anchor="middle" font-size="7.90" fill="#2a2a2a">0.3</text>
<line x1="521.70" y1="294.50" x2="526.70" y2="294.50" stroke="#404040" stroke-width="1.1"/>
<text class="a" transform="translate(514.70,294.50) rotate(-90)" text-anchor="middle" font-size="7.90" fill="#2a2a2a">0.4</text>
<line x1="531.40" y1="477.40" x2="531.40" y2="482.40" stroke="#404040" stroke-width="1.1"/>
<text class="a" transform="translate(531.40,495.50) scale(1,1.100)" text-anchor="middle" font-size="7.90" fill="#2a2a2a">0.0000</text>
<line x1="556.05" y1="477.40" x2="556.05" y2="482.40" stroke="#404040" stroke-width="1.1"/>
<line x1="580.70" y1="477.40" x2="580.70" y2="482.40" stroke="#404040" stroke-width="1.1"/>
<text class="a" transform="translate(580.70,495.50) scale(1,1.100)" text-anchor="middle" font-size="7.90" fill="#2a2a2a">0.0010</text>
<line x1="605.35" y1="477.40" x2="605.35" y2="482.40" stroke="#404040" stroke-width="1.1"/>
<line x1="630.00" y1="477.40" x2="630.00" y2="482.40" stroke="#404040" stroke-width="1.1"/>
<text class="a" transform="translate(630.00,495.50) scale(1,1.100)" text-anchor="middle" font-size="7.90" fill="#2a2a2a">0.0020</text>
<line x1="654.65" y1="477.40" x2="654.65" y2="482.40" stroke="#404040" stroke-width="1.1"/>
<line x1="679.30" y1="477.40" x2="679.30" y2="482.40" stroke="#404040" stroke-width="1.1"/>
<text class="a" transform="translate(679.30,495.50) scale(1,1.100)" text-anchor="middle" font-size="7.90" fill="#2a2a2a">0.0030</text>
<line x1="703.95" y1="477.40" x2="703.95" y2="482.40" stroke="#404040" stroke-width="1.1"/>
<text class="a" transform="translate(615.55,511.30) scale(1,1.070)" text-anchor="middle" font-size="9.20" fill="#2a2a2a">cab.TG</text>
<text class="a" transform="translate(496.20,380.40) rotate(-90)" text-anchor="middle" font-size="8.00" fill="#2a2a2a" textLength="53.80" lengthAdjust="spacingAndGlyphs">s(cab.TG,3.89)</text>
<rect x="533.00" y="471.80" width="127.80" height="5.60" fill="#000"/>
<rect x="661.00" y="471.80" width="2.80" height="5.60" fill="#888"/>
<rect x="663.80" y="471.80" width="2.50" height="5.60" fill="#000"/>
<rect x="666.30" y="471.80" width="0.70" height="5.60" fill="#bbb"/>
<rect x="667.00" y="471.80" width="4.20" height="5.60" fill="#000"/>
<rect x="671.20" y="471.80" width="1.80" height="5.60" fill="#999"/>
<rect x="673.00" y="471.80" width="1.40" height="5.60" fill="#000"/>
<rect x="674.60" y="471.80" width="1.00" height="5.60" fill="#bbb"/>
<rect x="675.80" y="471.80" width="1.10" height="5.60" fill="#000"/>
<rect x="680.40" y="471.80" width="1.80" height="5.60" fill="#000"/>
<rect x="683.90" y="471.80" width="1.10" height="5.60" fill="#000"/>
<rect x="687.10" y="471.80" width="1.00" height="5.60" fill="#000"/>
<rect x="688.20" y="471.80" width="1.20" height="5.60" fill="#aaa"/>
<rect x="689.60" y="471.80" width="2.10" height="5.60" fill="#000"/>
<rect x="692.90" y="471.80" width="0.50" height="5.60" fill="#999"/>
<rect x="693.40" y="471.80" width="1.40" height="5.60" fill="#000"/>
<rect x="698.00" y="471.80" width="1.40" height="5.60" fill="#444"/>
<path d="M532.90,433.50 C533.75,434.67 536.32,438.42 538.00,440.50 C539.68,442.58 541.17,444.42 543.00,446.00 C544.83,447.58 546.78,449.00 549.00,450.00 C551.22,451.00 553.97,452.00 556.30,452.00 C558.63,452.00 560.72,451.25 563.00,450.00 C565.28,448.75 567.40,446.77 570.00,444.50 C572.60,442.23 575.93,438.65 578.60,436.40 C581.27,434.15 583.43,432.48 586.00,431.00 C588.57,429.52 591.33,428.38 594.00,427.50 C596.67,426.62 599.67,426.03 602.00,425.70 C604.33,425.37 605.73,425.40 608.00,425.50 C610.27,425.60 613.27,426.30 615.60,426.30 C617.93,426.30 619.60,425.92 622.00,425.50 C624.40,425.08 626.42,425.35 630.00,423.80 C633.58,422.25 639.83,418.58 643.50,416.20 C647.17,413.82 648.92,412.12 652.00,409.50 C655.08,406.88 658.83,403.75 662.00,400.50 C665.17,397.25 667.92,393.70 671.00,390.00 C674.08,386.30 677.33,382.47 680.50,378.30 C683.67,374.13 686.98,369.32 690.00,365.00 C693.02,360.68 697.17,354.50 698.60,352.40" fill="none" stroke="#333333" stroke-width="1.25" stroke-linejoin="round"/>
<path d="M532.90,397.50 C533.42,399.42 535.07,405.58 536.00,409.00 C536.93,412.42 537.55,414.83 538.50,418.00 C539.45,421.17 540.45,425.25 541.70,428.00 C542.95,430.75 544.45,432.78 546.00,434.50 C547.55,436.22 549.13,437.50 551.00,438.30 C552.87,439.10 555.20,439.52 557.20,439.30 C559.20,439.08 560.87,438.38 563.00,437.00 C565.13,435.62 567.40,433.37 570.00,431.00 C572.60,428.63 575.93,424.97 578.60,422.80 C581.27,420.63 583.43,419.38 586.00,418.00 C588.57,416.62 591.50,415.38 594.00,414.50 C596.50,413.62 598.67,412.87 601.00,412.70 C603.33,412.53 605.57,413.20 608.00,413.50 C610.43,413.80 613.27,414.50 615.60,414.50 C617.93,414.50 619.60,414.22 622.00,413.50 C624.40,412.78 627.00,412.02 630.00,410.20 C633.00,408.38 637.00,404.97 640.00,402.60 C643.00,400.23 645.38,398.77 648.00,396.00 C650.62,393.23 652.87,390.33 655.70,386.00 C658.53,381.67 662.12,375.33 665.00,370.00 C667.88,364.67 670.38,359.00 673.00,354.00 C675.62,349.00 677.87,346.50 680.70,340.00 C683.53,333.50 686.82,323.53 690.00,315.00 C693.18,306.47 698.17,293.17 699.80,288.80" fill="none" stroke="#333333" stroke-width="1.25" stroke-dasharray="4.2 3.8"/>
<path d="M532.90,470.50 C533.75,469.75 536.48,467.17 538.00,466.00 C539.52,464.83 540.58,464.05 542.00,463.50 C543.42,462.95 545.00,462.70 546.50,462.70 C548.00,462.70 549.53,463.18 551.00,463.50 C552.47,463.82 553.63,464.85 555.30,464.60 C556.97,464.35 558.88,463.27 561.00,462.00 C563.12,460.73 565.07,458.83 568.00,457.00 C570.93,455.17 575.60,452.92 578.60,451.00 C581.60,449.08 583.40,447.28 586.00,445.50 C588.60,443.72 591.37,441.55 594.20,440.30 C597.03,439.05 600.08,438.48 603.00,438.00 C605.92,437.52 608.87,437.35 611.70,437.40 C614.53,437.45 617.45,438.10 620.00,438.30 C622.55,438.50 624.68,438.77 627.00,438.60 C629.32,438.43 631.73,438.15 633.90,437.30 C636.07,436.45 637.82,435.05 640.00,433.50 C642.18,431.95 644.38,429.70 647.00,428.00 C649.62,426.30 652.70,424.88 655.70,423.30 C658.70,421.72 661.37,419.95 665.00,418.50 C668.63,417.05 673.83,415.35 677.50,414.60 C681.17,413.85 683.62,414.07 687.00,414.00 C690.38,413.93 696.00,414.17 697.80,414.20" fill="none" stroke="#333333" stroke-width="1.25" stroke-dasharray="4.2 3.8"/>
<rect x="54" y="18.4" width="194.8" height="1.8" fill="#000"/>
<rect x="286" y="18.4" width="195" height="1.8" fill="#000"/>
<rect x="518.9" y="18.4" width="189.3" height="1.8" fill="#000"/>
<rect x="18.2" y="39.1" width="1.8" height="194.6" fill="#000"/>
<rect x="18.2" y="286.7" width="1.8" height="194.9" fill="#000"/>
<text x="134.60" y="16.70" font-size="17.20" fill="#111" stroke="#111" stroke-width="0.3" textLength="26.40" lengthAdjust="spacingAndGlyphs">SST</text>
<text x="366.60" y="13.40" font-size="17.20" fill="#111" stroke="#111" stroke-width="0.3" textLength="33.60" lengthAdjust="spacingAndGlyphs">FSLE</text>
<text x="606.60" y="14.50" font-size="17.20" fill="#111" stroke="#111" stroke-width="0.3" textLength="20.40" lengthAdjust="spacingAndGlyphs">TG</text>
<text transform="translate(12.6,146.6) rotate(-90)" font-size="16.6" fill="#111" stroke="#111" stroke-width="0.2" textLength="17.2" lengthAdjust="spacingAndGlyphs">PA</text>
<text transform="translate(12.6,393.8) rotate(-90)" font-size="16.6" fill="#111" stroke="#111" stroke-width="0.2" textLength="19.4" lengthAdjust="spacingAndGlyphs">AB</text>
</svg>
</body></html>
